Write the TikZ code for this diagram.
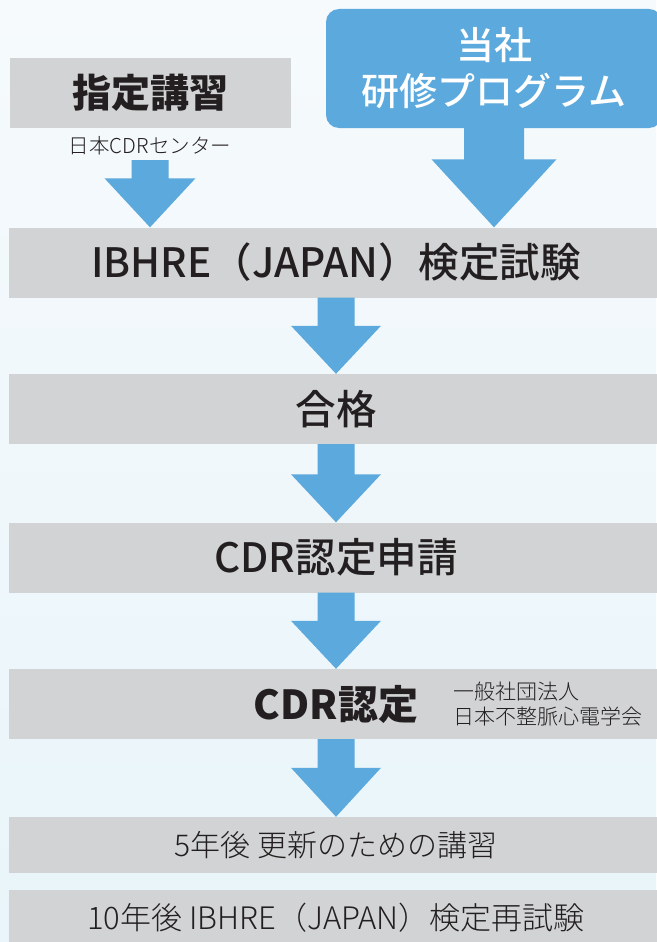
\documentclass[tikz,border=0pt]{standalone}
\usepackage{fontspec}
\setmainfont{Noto Sans CJK JP}
\newfontfamily\midfont{Noto Sans CJK JP Medium}
\newfontfamily\thinfont{Noto Sans CJK JP Light}
\usetikzlibrary{calc}

\definecolor{flowblue}{HTML}{5CA9DD}
\definecolor{boxgray}{HTML}{D1D3D4}
\definecolor{inkdark}{HTML}{231F20}
\definecolor{bgtop}{HTML}{F6FAFC}
\definecolor{bgbottom}{HTML}{E9F5FA}

\tikzset{
  stagebox/.style={fill=boxgray, text=inkdark, inner sep=0pt,
    minimum width=654pt, minimum height=70pt, font=\midfont\fontsize{40.5}{44}\selectfont},
  smallbox/.style={stagebox, minimum height=56pt, font=\thinfont\fontsize{30}{36}\selectfont},
  notetext/.style={text=inkdark, inner sep=0pt, align=left},
}

% block arrow: start point, target node, half shaft, half head, head length
\newcommand{\flowarrow}[5]{%
  \fill[flowblue] let \p1=(#1), \p2=(#2.north) in
    (\x1-#3pt,\y1) -- (\x1-#3pt,\y2+#5pt) -- (\x1-#4pt,\y2+#5pt) -- (\x1,\y2)
    -- (\x1+#4pt,\y2+#5pt) -- (\x1+#3pt,\y2+#5pt) -- (\x1+#3pt,\y1) -- cycle;}

\begin{document}
\begin{tikzpicture}[x=1pt,y=-1pt]
  % Background
  \useasboundingbox (0,0) rectangle (656,942);
  \shade[top color=bgtop, bottom color=bgbottom] (0,0) rectangle (656,942);

  % Entry routes
  \node[stagebox, minimum width=281pt, font=\bfseries\fontsize{39}{44}\selectfont]
    (kosyu) at (150.5,93) {指定講習};
  \node[notetext, font=\thinfont\fontsize{20.5}{22}\selectfont] (org) at (150,146) {日本CDRセンター};
  \node[fill=flowblue, text=white, rounded corners=13pt, inner sep=0pt,
    minimum width=336pt, minimum height=119pt, align=center,
    font=\midfont\fontsize{38}{46}\selectfont] (own) at (494,68.5) {当社\\研修プログラム};
  \coordinate (orgfoot) at ($(org)+(0,14)$);

  % Main steps
  \node[stagebox] (exam) at (336,262.5) {IBHRE（JAPAN）検定試験};
  \node[stagebox] (pass) at (336,409) {合格};
  \node[stagebox] (apply) at (336,557.5) {CDR認定申請};
  \node[stagebox, font=\bfseries\fontsize{40}{44}\selectfont] (cert) at (336,704) {CDR認定};
  \node[notetext, anchor=west, font=\thinfont\fontsize{21}{25}\selectfont]
    (certby) at (453,704.5) {一般社団法人\\日本不整脈心電学会};
  \node[smallbox] (renew) at (336,845) {5年後 更新のための講習};
  \node[smallbox, font=\thinfont\fontsize{31}{36}\selectfont] (reexam) at (336,918)
    {10年後 IBHRE（JAPAN）検定再試験};

  % Arrows
  \flowarrow{orgfoot}{exam}{18.5}{45.5}{49}
  \flowarrow{own.south}{exam}{30}{62.5}{68}
  \flowarrow{exam.south}{pass}{18.5}{45}{48}
  \flowarrow{pass.south}{apply}{18.5}{45}{48}
  \flowarrow{apply.south}{cert}{18.5}{45}{48}
  \flowarrow{cert.south}{renew}{18.5}{45}{49}
\end{tikzpicture}
\end{document}
